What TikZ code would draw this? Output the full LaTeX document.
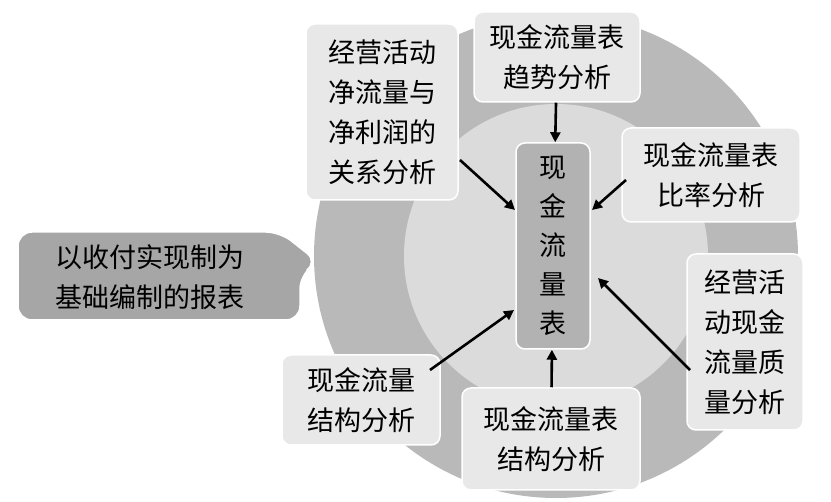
\documentclass[tikz,border=0pt]{standalone}
\usepackage{fontspec}
\setmainfont{Noto Sans CJK SC}
\usetikzlibrary{arrows.meta}

\begin{document}
\begin{tikzpicture}[x=1pt,y=-1pt,
  item/.style={draw=white,line width=1.5pt,fill=gray!18,rounded corners=9pt,
    font=\fontsize{27}{40}\selectfont,align=center,inner sep=0pt},
  arr/.style={-{Triangle[length=10pt,width=10pt]},line width=2.6pt}]
 \useasboundingbox (0,0) rectangle (831,502);

 % circles
 \fill[gray!55] (556,256) circle (242);
 \fill[gray!28] (556,256) circle (152);

 % callout
 \fill[gray!70,draw=white,line width=1.5pt,rounded corners=14pt]
   (18,232) -- (280,232) -- (318,262) -- (300,275) -- (300,320) -- (18,320) -- cycle;
 \node[font=\fontsize{27}{40}\selectfont,align=left] (base) at (150,277)
   {以收付实现制为\\基础编制的报表};

 % centre
 \node[item,fill=gray!60,minimum width=74pt,minimum height=206pt,
   font=\fontsize{27}{39}\selectfont] (cf) at (553,246) {现\\金\\流\\量\\表};

 % boxes
 \node[item,minimum width=152pt,minimum height=176pt] (rel) at (382,112)
   {经营活动\\净流量与\\净利润的\\关系分析};
 \node[item,minimum width=166pt,minimum height=90pt] (trend) at (557,57)
   {现金流量表\\趋势分析};
 \node[item,minimum width=178pt,minimum height=94pt] (ratio) at (711,175)
   {现金流量表\\比率分析};
 \node[item,minimum width=116pt,minimum height=176pt] (qual) at (745,342)
   {经营活\\动现金\\流量质\\量分析};
 \node[item,minimum width=158pt,minimum height=90pt] (str) at (361,400)
   {现金流量\\结构分析};
 \node[item,minimum width=178pt,minimum height=102pt] (tstr) at (551,439)
   {现金流量表\\结构分析};

 % arrows
 \coordinate (a1) at (460,160);
 \coordinate (b1) at (515,210);
 \draw[arr] (a1) -- (b1);
 \draw[arr] (trend) -- (cf);
 \coordinate (a3) at (626,180);
 \coordinate (b3) at (592,210);
 \draw[arr] (a3) -- (b3);
 \coordinate (a4) at (690,370);
 \coordinate (b4) at (598,278);
 \draw[arr] (a4) -- (b4);
 \coordinate (a5) at (430,370);
 \coordinate (b5) at (514,310);
 \draw[arr] (a5) -- (b5);
 \draw[arr] (tstr) -- (cf);
\end{tikzpicture}
\end{document}
